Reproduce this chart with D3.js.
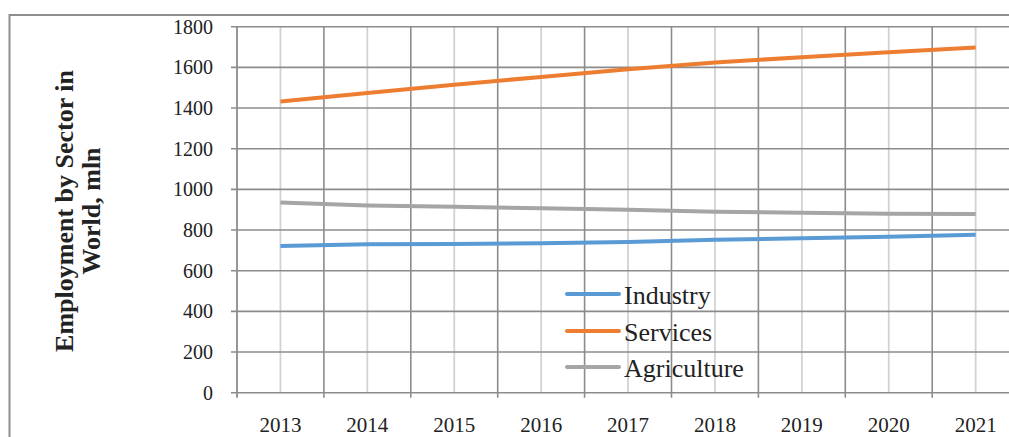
<!DOCTYPE html>
<html>
<head>
<meta charset="utf-8">
<script src="https://cdn.jsdelivr.net/npm/d3@7"></script>
<style>
  html, body { margin: 0; padding: 0; background: #fff; }
  svg { display: block; }
  text { font-family: "Liberation Serif", "Times New Roman", serif; fill: #222; }
</style>
</head>
<body>
<svg id="chart" width="1009" height="437"></svg>
<script>
const years = ["2013","2014","2015","2016","2017","2018","2019","2020","2021"];
const industry    = [721, 730, 731, 735, 741, 752, 759, 767, 777];
const services    = [1432, 1474, 1515, 1553, 1591, 1624, 1650, 1674, 1698];
const agriculture = [935, 921, 915, 907, 900, 890, 885, 880, 879];
const seriesNames = ["Industry", "Services", "Agriculture"];
const seriesColors = ["#5b9bd5", "#ed7d31", "#a5a5a5"];
const yTicks = [0, 200, 400, 600, 800, 1000, 1200, 1400, 1600, 1800];

const seriesValues = [industry, services, agriculture];

const svg = d3.select("#chart");

// outer frame (clipped chart border)
svg.append("line").attr("x1", 9).attr("x2", 1009).attr("y1", 15).attr("y2", 15)
  .attr("stroke", "#8e8e8e").attr("stroke-width", 2);
svg.append("line").attr("x1", 9.5).attr("x2", 9.5).attr("y1", 14).attr("y2", 437)
  .attr("stroke", "#8e8e8e").attr("stroke-width", 2);

const x0 = 237, plotTop = 26.7, plotBottom = 392.7;
const bw = 86.9;
const x = d3.scaleBand().domain(years).range([x0, x0 + bw * years.length]).padding(0);
const y = d3.scaleLinear().domain([0, 1800]).range([plotBottom, plotTop]);

const g = svg.append("g");

// vertical gridlines: light at category centers
g.selectAll(".vc").data(years).enter().append("line")
  .attr("x1", d => x(d) + x.bandwidth() / 2).attr("x2", d => x(d) + x.bandwidth() / 2)
  .attr("y1", plotTop).attr("y2", plotBottom)
  .attr("stroke", "#d2d2d2").attr("stroke-width", 1.8);

// vertical gridlines: dark at category boundaries
const bounds = years.map(d => x(d)).concat([x0 + bw * years.length]);
g.selectAll(".vb").data(bounds.slice(1)).enter().append("line")
  .attr("x1", d => d).attr("x2", d => d)
  .attr("y1", plotTop).attr("y2", plotBottom + 5)
  .attr("stroke", "#8c8c8c").attr("stroke-width", 1.6);

// horizontal gridlines
g.selectAll(".hg").data(yTicks).enter().append("line")
  .attr("x1", x0 - 6).attr("x2", 1009)
  .attr("y1", d => y(d)).attr("y2", d => y(d))
  .attr("stroke", "#8c8c8c").attr("stroke-width", 1.6);

// y axis line
g.append("line").attr("x1", x0).attr("x2", x0).attr("y1", plotTop).attr("y2", plotBottom + 5)
  .attr("stroke", "#8c8c8c").attr("stroke-width", 1.8);

// y tick labels
g.selectAll(".yl").data(yTicks).enter().append("text")
  .attr("x", 213).attr("y", d => y(d)).attr("dy", "0.35em")
  .attr("text-anchor", "end").style("font-size", "20px")
  .text(d => d);

// x tick labels
g.selectAll(".xl").data(years).enter().append("text")
  .attr("x", d => x(d) + x.bandwidth() / 2).attr("y", 432)
  .attr("text-anchor", "middle").style("font-size", "21px")
  .text(d => d);

// lines
const line = d3.line()
  .x((d, i) => x(years[i]) + x.bandwidth() / 2)
  .y(d => y(d));
seriesValues.forEach((vals, k) => {
  g.append("path").datum(vals)
    .attr("fill", "none").attr("stroke", seriesColors[k])
    .attr("stroke-width", 4).attr("stroke-linejoin", "round")
    .attr("d", line);
});

// legend
const legY = [294, 331, 367];
seriesNames.forEach((name, k) => {
  g.append("line").attr("x1", 567).attr("x2", 619)
    .attr("y1", legY[k]).attr("y2", legY[k])
    .attr("stroke", seriesColors[k]).attr("stroke-width", 4).attr("stroke-linecap", "round");
  g.append("text").attr("x", 624).attr("y", legY[k] + 10)
    .style("font-size", "26px").text(name);
});

// y axis title
const yt = svg.append("text")
  .attr("transform", "translate(0,211) rotate(-90)")
  .attr("text-anchor", "middle")
  .style("font-size", "26px").style("font-weight", "bold");
yt.append("tspan").attr("x", 0).attr("y", 73).text("Employment by Sector in");
yt.append("tspan").attr("x", 0).attr("y", 100).text("World, mln");
</script>
</body>
</html>
